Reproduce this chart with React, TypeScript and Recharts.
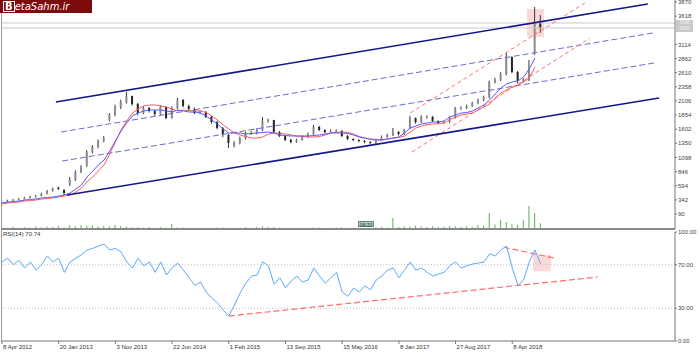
import { ComposedChart, Bar, Line, XAxis, YAxis, ReferenceLine, ReferenceArea } from 'recharts';

const DATE_LABELS = ['8 Apr 2012', '20 Jan 2013', '3 Nov 2013', '22 Jun 2014', '1 Feb 2015', '13 Sep 2015', '15 May 2016', '8 Jan 2017', '27 Aug 2017', '8 Apr 2018'];
const DATE_TICKS = [0, 10, 20, 30, 40, 50, 60, 70, 80, 90];
// 3366 sits under the price tag, so it is left out
const PRICE_TICKS = [90, 342, 594, 846, 1098, 1350, 1602, 1854, 2106, 2358, 2610, 2862, 3114, 3618, 3870];
const RSI_TICKS = [0, 30, 70, 100];

const OPEN = [
  290, 304, 322, 345, 358, 376, 393, 411, 447, 500, 560, 520,
  607, 697, 839, 960, 1196, 1285, 1392, 1766, 1856, 1998, 2087, 2194,
  2052, 1891, 1980, 1927, 1873, 1998, 1802, 1980, 2123, 2016, 1963, 1891,
  1909, 1820, 1731, 1624, 1499, 1300, 1356, 1445, 1535, 1535, 1588, 1749,
  1766, 1552, 1481, 1410, 1374, 1410, 1463, 1517, 1642, 1588, 1552, 1570,
  1570, 1481, 1428, 1410, 1392, 1374, 1356, 1410, 1463, 1499, 1552, 1517,
  1620, 1802, 1731, 1820, 1820, 1749, 1713, 1731, 1802, 1980, 1980, 2016,
  2070, 2123, 2176, 2444, 2480, 2587, 2890, 2622, 2462, 2480, 2961, 3514,
];
const HIGH = [
  330, 345, 360, 375, 395, 415, 430, 470, 520, 560, 580, 530,
  750, 870, 960, 1230, 1320, 1420, 1480, 1890, 2040, 2130, 2265, 2200,
  2070, 2010, 2000, 1950, 2030, 2010, 2010, 2160, 2140, 2040, 1990, 1940,
  1930, 1840, 1750, 1640, 1520, 1390, 1470, 1560, 1570, 1620, 1820, 1790,
  1770, 1570, 1500, 1430, 1430, 1490, 1540, 1680, 1660, 1600, 1600, 1600,
  1590, 1500, 1440, 1420, 1410, 1390, 1430, 1490, 1520, 1624, 1570, 1610,
  1840, 1810, 1850, 1850, 1840, 1760, 1750, 1830, 2000, 2010, 2040, 2090,
  2150, 2200, 2470, 2520, 2620, 2961, 2900, 2640, 2510, 2836, 3781, 3640,
];
const LOW = [
  280, 295, 315, 335, 350, 368, 385, 400, 440, 490, 520, 429,
  590, 680, 820, 930, 1170, 1260, 1370, 1740, 1830, 1960, 2060, 2020,
  1850, 1870, 1900, 1840, 1860, 1780, 1790, 1960, 1990, 1940, 1870, 1870,
  1800, 1700, 1600, 1460, 1267, 1280, 1330, 1420, 1500, 1510, 1570, 1720,
  1530, 1460, 1390, 1350, 1360, 1400, 1450, 1500, 1570, 1530, 1540, 1550,
  1460, 1410, 1390, 1370, 1350, 1330, 1340, 1400, 1450, 1480, 1490, 1500,
  1600, 1700, 1710, 1790, 1730, 1690, 1700, 1710, 1790, 1950, 1960, 2000,
  2050, 2100, 2150, 2420, 2460, 2560, 2600, 2420, 2440, 2460, 2925, 3320,
];
const CLOSE = [
  304, 322, 340, 358, 376, 393, 411, 447, 500, 536, 536, 465,
  697, 839, 928, 1196, 1285, 1392, 1445, 1856, 1998, 2087, 2194, 2052,
  1891, 1980, 1927, 1873, 1998, 1802, 1980, 2123, 2016, 1963, 1891, 1909,
  1820, 1731, 1624, 1499, 1356, 1356, 1445, 1535, 1535, 1588, 1749, 1766,
  1552, 1481, 1410, 1374, 1410, 1463, 1517, 1642, 1588, 1552, 1570, 1570,
  1481, 1428, 1410, 1392, 1374, 1356, 1410, 1463, 1499, 1552, 1517, 1588,
  1802, 1731, 1820, 1820, 1749, 1713, 1731, 1802, 1980, 1980, 2016, 2070,
  2123, 2176, 2444, 2480, 2587, 2890, 2622, 2462, 2480, 2658, 3514, 3406,
];
const MA_FAST = [
  287, 304, 313, 322, 340, 349, 358, 376, 385, 393, 411, 429,
  465, 536, 607, 750, 857, 964, 1053, 1214, 1392, 1570, 1713, 1838,
  1891, 1927, 1945, 1945, 1945, 1927, 1909, 1945, 1927, 1909, 1909, 1891,
  1838, 1766, 1695, 1606, 1535, 1535, 1535, 1517, 1526, 1535, 1544, 1552,
  1535, 1499, 1490, 1481, 1481, 1481, 1481, 1490, 1499, 1517, 1535, 1535,
  1535, 1526, 1499, 1463, 1445, 1419, 1410, 1410, 1428, 1445, 1463, 1535,
  1624, 1659, 1695, 1713, 1731, 1731, 1749, 1820, 1856, 1891, 1900, 1927,
  1980, 2034, 2123, 2230, 2337, 2408, 2444, 2462, 2533, 2676, 2872, null,
];
const MA_SLOW = [
  269, 287, 295, 304, 322, 331, 340, 358, 367, 376, 393, 411,
  429, 483, 554, 661, 750, 857, 964, 1160, 1374, 1588, 1749, 1891,
  1963, 2016, 2034, 2034, 2016, 1998, 1963, 1927, 1945, 1936, 1927, 1927,
  1900, 1838, 1766, 1677, 1606, 1535, 1499, 1472, 1445, 1445, 1463, 1517,
  1535, 1526, 1517, 1499, 1481, 1472, 1463, 1463, 1472, 1499, 1535, 1544,
  1552, 1544, 1517, 1472, 1445, 1428, 1419, 1410, 1428, 1445, 1454, 1481,
  1552, 1624, 1659, 1686, 1695, 1704, 1713, 1775, 1820, 1856, 1873, 1891,
  1945, 1998, 2052, 2159, 2248, 2301, 2355, 2390, 2444, 2515, 2711, null,
];
const VOLUME = [
  8, 5, 10, 6, 9, 5, 12, 8, 10, 9, 14, 8,
  16, 12, 18, 14, 16, 10, 14, 12, 17, 13, 10, 8,
  9, 6, 8, 6, 9, 5, 22, 7, 6, 5, 6, 4,
  5, 6, 7, 5, 6, 4, 5, 8, 6, 9, 12, 9,
  8, 6, 5, 6, 5, 4, 6, 5, 7, 4, 5, 6,
  7, 5, 6, 5, 4, 6, 8, 10, 7, 48, 9, 12,
  10, 14, 11, 8, 12, 9, 10, 13, 11, 9, 12, 10,
  18, 15, 70, 20, 40, 30, 22, 18, 40, 100, 70, 25,
];
const RSI = [
  72.5, 76, 70, 74, 67, 72.5, 65, 70, 78, 72.5, 76, 63,
  72.5, 76, 79, 83.5, 85, 87, 89, 83.5, 85, 81.7, 72.5, 67,
  76, 69, 72.5, 63, 72.5, 60.5, 67, 71.5, 65, 58, 51, 54,
  45, 39.4, 35, 28.4, 23, 33, 44, 53, 59.6, 60.5, 72.5, 69,
  52, 58, 48.6, 55, 59.6, 54, 56, 67, 59.6, 53, 58, 63,
  45, 41, 48.6, 45, 50.5, 47, 56, 59.6, 65, 67, 58, 65,
  72.5, 65, 67, 63, 59.6, 61.5, 63, 69, 72.5, 67, 69, 70.6,
  71.5, 72.5, 80, 78, 83.5, 87, 67, 51, 56, 72.5, 83.5, 70.74,
];

// trendlines drawn on the chart: [bar index, price, bar index, price]
const CHANNEL_SOLID = [[9.5, 2087, 113.9, 3835], [11.5, 429, 115.9, 2159]];
const CHANNEL_DASHED = [[10.4, 1552, 114.8, 3318], [10.6, 1035, 115, 2783]];
const TREND_RED = [[72, 1891, 102.8, 3852], [72.3, 1196, 103.7, 3228]];
const RSI_TRENDS = [[40, 22.9, 105.1, 58.7], [88.5, 86, 97.5, 76]];
const BID_ASK = [3496, 3407];
const BOX_PRICE = [92.6, 95.6, 3246, 3746];
const BOX_RSI = [93.7, 96.8, 64, 79];

const X_DOMAIN = [0, 118.7];
const FONT = 'Liberation Sans, Arial, sans-serif';

const rows = CLOSE.map((c, i) => ({
  i,
  open: OPEN[i],
  high: HIGH[i],
  low: LOW[i],
  close: c,
  range: [LOW[i], HIGH[i]],
  volume: VOLUME[i],
  maFast: MA_FAST[i],
  maSlow: MA_SLOW[i],
  rsi: RSI[i],
}));

const Candle = (props: any) => {
  const { x, y, width, height, payload } = props;
  if (!payload || height == null) return null;
  const { open, close, high, low } = payload;
  const span = high - low || 1;
  const py = (v: number) => y + ((high - v) / span) * height;
  const cx = x + width / 2;
  const top = py(Math.max(open, close));
  const bot = py(Math.min(open, close));
  const up = close >= open;
  return (
    <g>
      <line x1={cx} x2={cx} y1={y} y2={y + height} stroke="#3a3a3a" strokeWidth={1} />
      <rect x={cx - 1} y={top} width={2} height={Math.max(bot - top, 0.8)} fill={up ? '#8c8c8c' : '#262626'} stroke="none" />
    </g>
  );
};

const DateTick = ({ x, y, payload }: any) => (
  <text x={x + 1} y={y + 4} fontSize={6} fill="#333" fontFamily={FONT} textAnchor="start">
    {DATE_LABELS[DATE_TICKS.indexOf(payload.value)]}
  </text>
);

const axisTick = { fontSize: 6, fill: '#444', fontFamily: FONT };

export default function App() {
  return (
    <div style={{ position: 'absolute', left: 0, top: 0, width: 700, height: 354, background: '#fff', fontFamily: FONT, overflow: 'hidden' }}>
      <div style={{ position: 'absolute', left: 0, top: 0 }}>
        <ComposedChart width={700} height={229} data={rows} margin={{ top: 0, right: 0, bottom: 0, left: 2 }}>
          <XAxis xAxisId="x" dataKey="i" type="number" domain={X_DOMAIN} hide allowDataOverflow />
          <XAxis xAxisId="xv" dataKey="i" type="number" domain={X_DOMAIN} hide allowDataOverflow />
          <YAxis yAxisId="price" orientation="right" width={25} domain={[-177, 3906]} ticks={PRICE_TICKS} interval={0}
            tick={axisTick} tickSize={2} tickMargin={1} stroke="#777" allowDataOverflow />
          <YAxis yAxisId="vol" hide domain={[0, 1000]} />
          <ReferenceArea xAxisId="x" yAxisId="price" x1={BOX_PRICE[0]} x2={BOX_PRICE[1]} y1={BOX_PRICE[2]} y2={BOX_PRICE[3]} fill="#f6b9b9" fillOpacity={0.55} stroke="none" />
          {BID_ASK.map((v) => (
            <ReferenceLine key={v} xAxisId="x" yAxisId="price" y={v} stroke="#c9c9c9" strokeWidth={1} />
          ))}
          <Bar xAxisId="xv" yAxisId="vol" dataKey="volume" fill="#58b058" barSize={1} isAnimationActive={false} />
          {CHANNEL_DASHED.map((s, k) => (
            <ReferenceLine key={'d' + k} xAxisId="x" yAxisId="price" segment={[{ x: s[0], y: s[1] }, { x: s[2], y: s[3] }]} stroke="#6b6bd0" strokeWidth={1} strokeDasharray="6 3" />
          ))}
          {TREND_RED.map((s, k) => (
            <ReferenceLine key={'r' + k} xAxisId="x" yAxisId="price" segment={[{ x: s[0], y: s[1] }, { x: s[2], y: s[3] }]} stroke="#ff7474" strokeWidth={1} strokeDasharray="4 3" />
          ))}
          <Bar xAxisId="x" yAxisId="price" dataKey="range" barSize={3} shape={<Candle />} isAnimationActive={false} />
          <Line xAxisId="x" yAxisId="price" dataKey="maSlow" stroke="#ff5a5a" strokeWidth={1} dot={false} isAnimationActive={false} />
          <Line xAxisId="x" yAxisId="price" dataKey="maFast" stroke="#5a5aff" strokeWidth={1} dot={false} isAnimationActive={false} />
          {CHANNEL_SOLID.map((s, k) => (
            <ReferenceLine key={'s' + k} xAxisId="x" yAxisId="price" segment={[{ x: s[0], y: s[1] }, { x: s[2], y: s[3] }]} stroke="#16168c" strokeWidth={1.6} />
          ))}
        </ComposedChart>
      </div>

      <div style={{ position: 'absolute', left: 0, top: 229 }}>
        <ComposedChart width={700} height={125} data={rows} margin={{ top: 3, right: 0, bottom: 0, left: 2 }}>
          <XAxis dataKey="i" type="number" domain={X_DOMAIN} ticks={DATE_TICKS} interval={0} height={13}
            tick={<DateTick />} tickSize={3} tickMargin={1} stroke="#777" allowDataOverflow />
          <YAxis orientation="right" width={25} domain={[0, 100]} ticks={RSI_TICKS} interval={0}
            tickFormatter={(v: number) => v.toFixed(2)} tick={axisTick} tickSize={2} tickMargin={1} stroke="#777" />
          <ReferenceLine y={70} stroke="#c4c4c4" strokeDasharray="1 2" />
          <ReferenceLine y={30} stroke="#c4c4c4" strokeDasharray="1 2" />
          <ReferenceArea x1={BOX_RSI[0]} x2={BOX_RSI[1]} y1={BOX_RSI[2]} y2={BOX_RSI[3]} fill="#f6b9b9" fillOpacity={0.55} stroke="none" />
          {RSI_TRENDS.map((s, k) => (
            <ReferenceLine key={'t' + k} segment={[{ x: s[0], y: s[1] }, { x: s[2], y: s[3] }]} stroke="#ff6b6b" strokeWidth={1.2} strokeDasharray="6 3" />
          ))}
          <Line dataKey="rsi" stroke="#5aa8ff" strokeWidth={1} dot={false} isAnimationActive={false} />
        </ComposedChart>
      </div>

      {/* panel frame */}
      <div style={{ position: 'absolute', left: 1, top: 13, width: 1, height: 329, background: '#9a9a9a' }} />
      <div style={{ position: 'absolute', left: 2, top: 228, width: 673, height: 2, background: '#8a8a8a' }} />

      {/* logo */}
      <div style={{ position: 'absolute', left: 0, top: 0, width: 92, height: 13, background: '#7c0b0b', color: '#fff', fontSize: 10, lineHeight: '13px', fontStyle: 'italic', fontFamily: 'DejaVu Sans, sans-serif', paddingLeft: 3, boxSizing: 'border-box', whiteSpace: 'nowrap' }}>
        <span style={{ border: '1px solid #fff', padding: '0 1px', fontStyle: 'normal', fontWeight: 'bold', lineHeight: '9px', display: 'inline-block' }}>B</span>etaSahm.ir
      </div>

      {/* current price tag */}
      <div style={{ position: 'absolute', left: 676, top: 20, width: 17, height: 12, background: '#c9c9c9', color: '#f4f4f4', fontSize: 4.5, lineHeight: '6px', textAlign: 'center' }}>
        <div style={{ height: 6 }}>3496</div>
        <div style={{ height: 6 }}>3407</div>
      </div>

      {/* time marker */}
      <div style={{ position: 'absolute', left: 358, top: 221, width: 16, height: 6, background: '#a9c6c4', border: '0.5px solid #6b8c8a', color: '#2d3d3d', fontSize: 5, lineHeight: '6px', textAlign: 'center', boxSizing: 'border-box' }}>
        04:20
      </div>

      <div style={{ position: 'absolute', left: 3, top: 230, fontSize: 6, color: '#333', lineHeight: '8px' }}>RSI(14) 70.74</div>
    </div>
  );
}
